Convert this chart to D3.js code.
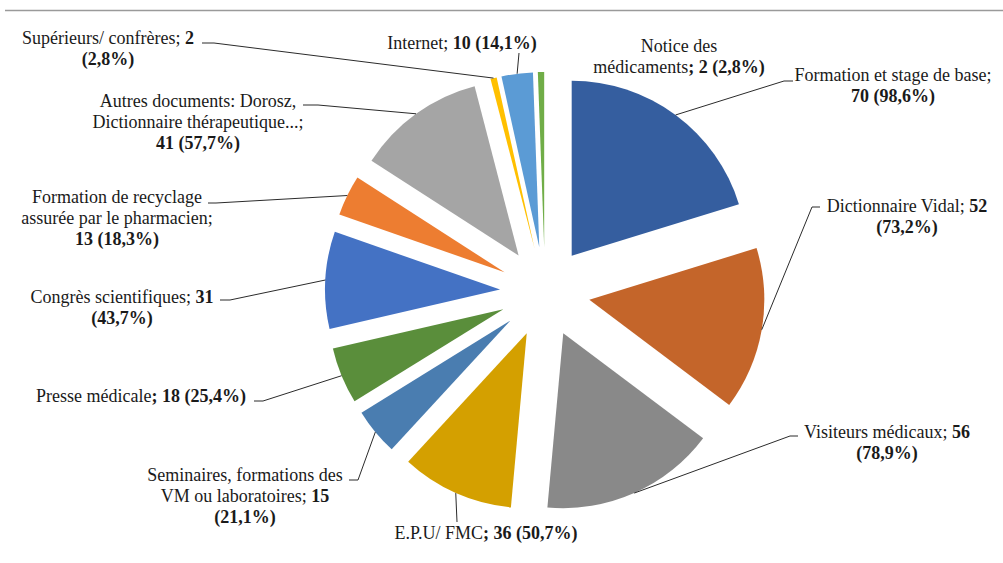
<!DOCTYPE html>
<html>
<head>
<meta charset="utf-8">
<script src="https://cdnjs.cloudflare.com/ajax/libs/d3/7.8.5/d3.min.js"></script>
<style>
  body { margin: 0; background: #fff; }
</style>
</head>
<body>
<div class="chart"></div>
<script>
// sources d'information (n = 71)
var categories = ["Formation et stage de base", "Dictionnaire Vidal", "Visiteurs médicaux", "E.P.U/ FMC",
  "Seminaires, formations des VM ou laboratoires", "Presse médicale", "Congrès scientifiques",
  "Formation de recyclage assurée par le pharmacien", "Autres documents: Dorosz, Dictionnaire thérapeutique...",
  "Supérieurs/ confrères", "Internet", "Notice des médicaments"];
var values = [70, 52, 56, 36, 15, 18, 31, 13, 41, 2, 10, 2];
var total = 71;
var colors = ["#355E9F", "#C4652A", "#898989", "#D4A000", "#4A7DB0", "#5A8E3B",
  "#4472C4", "#ED7D31", "#A5A5A5", "#FFC000", "#5B9BD5", "#70AD47"];

// label text, "|" = new line, "**" toggles bold
var labelText = [
  "Formation et stage de base;|**{v} ({p})**",
  "Dictionnaire Vidal; **{v}**|**({p})**",
  "Visiteurs médicaux; **{v}**|**({p})**",
  "E.P.U/ FMC**; {v} ({p})**",
  "Seminaires, formations des|VM ou laboratoires; **{v}**|**({p})**",
  "Presse médicale**; {v} ({p})**",
  "Congrès scientifiques; **{v}**|**({p})**",
  "Formation de recyclage|assurée par le pharmacien;|**{v} ({p})**",
  "Autres documents: Dorosz,|Dictionnaire thérapeutique...;|**{v} ({p})**",
  "Supérieurs/ confrères; **{v}**|**({p})**",
  "Internet; **{v} ({p})**",
  "Notice des|médicaments**; {v} ({p})**"
];

// label placement: [centre x, first baseline]
var labelPos = [[893, 81], [907, 212], [887, 438], [486, 539], [245, 481], [141, 402],
  [122, 303], [117, 203], [198, 107], [108, 44], [462, 49], [679, 52]];
// leader start points (before joining the slice)
var leaders = [[[793, 81], [784, 81]], [[820, 207], [812, 207]], [[798, 436], [790, 436]], [[457, 522]],
  [[349, 480], [358, 480]], [[254, 401], [263, 401]], [[220, 300], [230, 300]], [[208, 203], [216, 203]],
  [[303, 105], [318, 105]], [[202, 43], [214, 43]], [[519, 53]], null];

var W = 1003, H = 563;
var cx = 545, cy = 292, R = 175, explode = 45;

var svg = d3.select(".chart").append("svg")
  .attr("width", W).attr("height", H);

svg.append("line")
  .attr("x1", 5).attr("x2", W).attr("y1", 10.5).attr("y2", 10.5)
  .attr("stroke", "#9a9a9a").attr("stroke-width", 1.5);

var pie = d3.pie().sort(null).value(function(d) { return d; });
var arcs = pie(values);
var arc = d3.arc().innerRadius(0).outerRadius(R);

function mid(d) { return (d.startAngle + d.endAngle) / 2; }
function off(d, r) { var a = mid(d); return [Math.sin(a) * r, -Math.cos(a) * r]; }

var g = svg.append("g").attr("transform", "translate(" + cx + "," + cy + ")");

g.selectAll("path").data(arcs).enter().append("path")
  .attr("d", arc)
  .attr("transform", function(d) { var o = off(d, explode); return "translate(" + o[0] + "," + o[1] + ")"; })
  .attr("fill", function(d, i) { return colors[i]; });

// leader lines
var line = d3.line();
arcs.forEach(function(d, i) {
  if (!leaders[i]) return;
  var o = off(d, explode), e = off(d, R);
  var end = [cx + o[0] + e[0], cy + o[1] + e[1]];
  svg.append("path")
    .attr("d", line(leaders[i].concat([end])))
    .attr("fill", "none").attr("stroke", "#2b2b2b").attr("stroke-width", 1);
});

// labels
function fmtPct(v) { return (v / total * 100).toFixed(1).replace(".", ",") + "%"; }

labelText.forEach(function(t, i) {
  var s = t.replace("{v}", values[i]).replace("{p}", fmtPct(values[i]));
  var txt = svg.append("text")
    .attr("font-family", "'Liberation Serif', 'Times New Roman', Times, serif")
    .attr("font-size", "18px")
    .attr("fill", "#1a1a1a")
    .attr("text-anchor", "middle")
    .attr("x", labelPos[i][0]).attr("y", labelPos[i][1]);
  var bold = false;
  s.split("|").forEach(function(ln, li) {
    var parts = ln.split("**");
    var first = true;
    parts.forEach(function(p, pi) {
      if (pi > 0) bold = !bold;
      if (p === "") return;
      var ts = txt.append("tspan").text(p).attr("font-weight", bold ? "bold" : "normal");
      if (first) {
        ts.attr("x", labelPos[i][0]).attr("y", labelPos[i][1] + li * 21);
        first = false;
      }
    });
    bold = false;
  });
});
</script>
</body>
</html>
